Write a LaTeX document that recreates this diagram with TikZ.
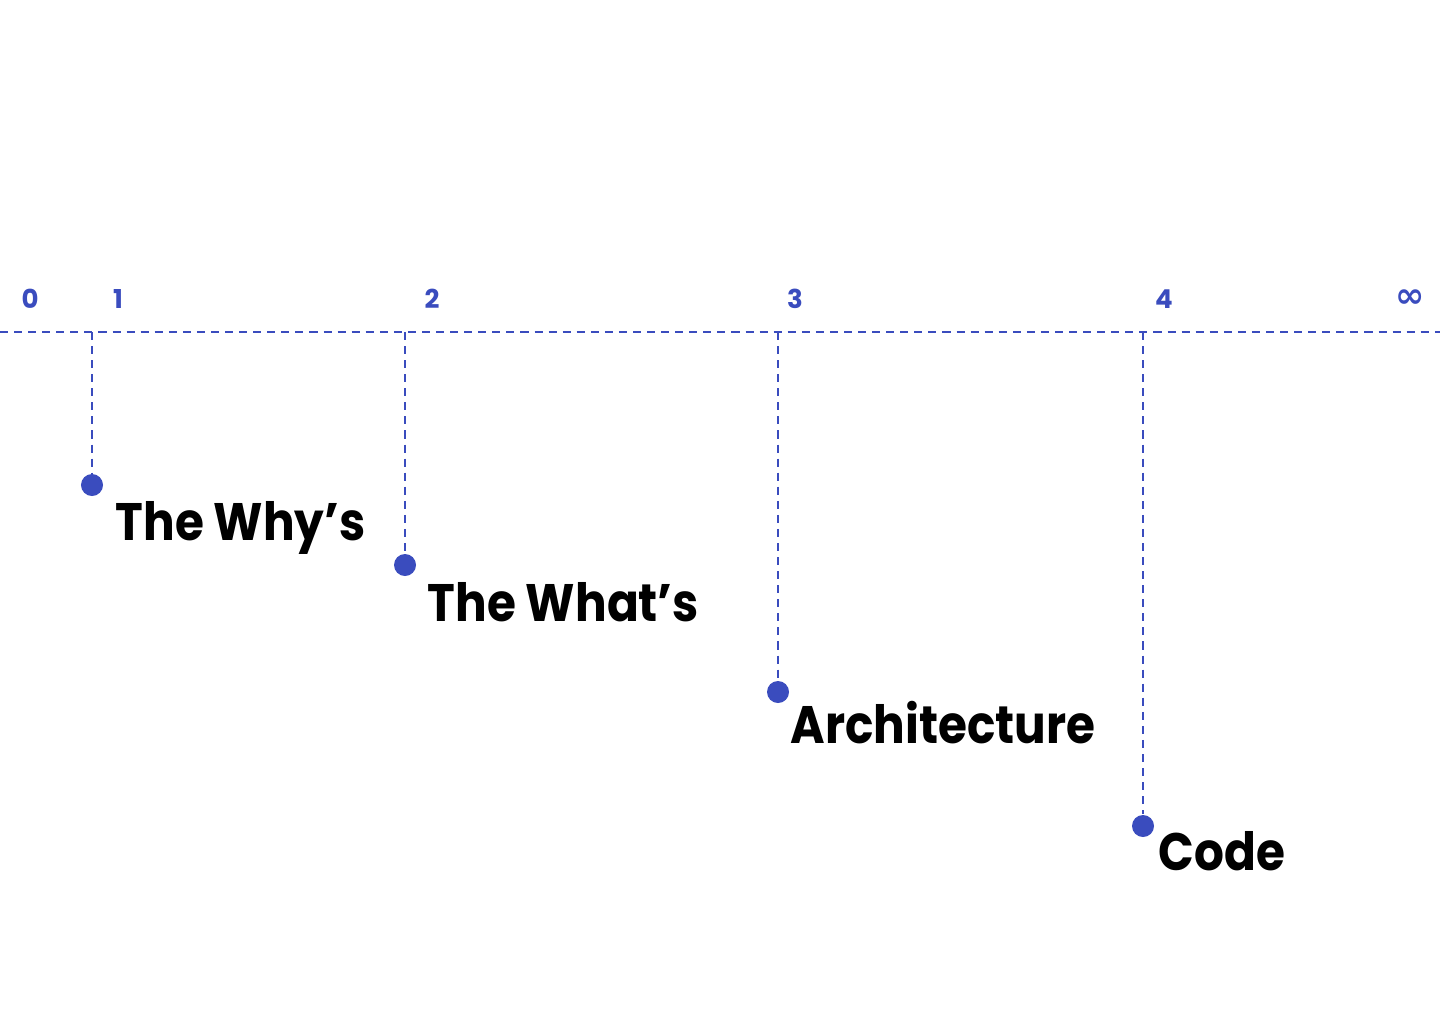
\documentclass[tikz,border=0pt]{standalone}
\usepackage{fontspec}
\setmainfont{Poppins}
\newfontfamily\stagefont{Poppins}[FakeStretch=0.89]
\newfontfamily\symfont{DejaVu Sans}
\definecolor{axisblue}{RGB}{58,76,190}

\begin{document}
\begin{tikzpicture}[x=0.01cm, y=-0.01cm,
    tick/.style={font=\bfseries\fontsize{7.4}{9}\selectfont, text=axisblue},
    dot/.style={circle, fill=axisblue, inner sep=0pt, minimum size=0.22cm},
    stage/.style={font=\stagefont\bfseries\fontsize{15}{18}\selectfont, anchor=base west, inner sep=0pt},
    guide/.style={axisblue, line width=0.4pt, dash pattern=on 2.3pt off 1.7pt}]
    \useasboundingbox (0,0) rectangle (1440,1024);

    % The axis
    \coordinate (axisL) at (0,332);
    \coordinate (axisR) at (1440,332);
    \draw[guide] (axisL) -- (axisR);

    % Tick numbers
    \node[tick] (n0)   at (30,299)   {0};
    \node[tick] (n1)   at (118,299)  {1};
    \node[tick] (n2)   at (432,299)  {2};
    \node[tick] (n3)   at (795,299)  {3};
    \node[tick] (n4)   at (1164,299) {4};
    \node[tick] (ninf) at (1410,299) {\symfont\fontsize{10}{12}\selectfont ∞};

    % Stages: drop line from the axis, dot, label
    \foreach \name/\x/\y/\dx/\dy/\txt in {why/92/485/23/55/The Why’s, what/405/565/22/56/The What’s,
                                          arch/778/692/12/51/Architecture, code/1143/826/15/44/Code} {
        \coordinate (\name top) at (\x,332);
        \node[dot] (\name) at (\x,\y) {};
        \draw[guide] (\name top) -- (\name);
        \node[stage] (\name label) at ([shift={(\dx,\dy)}]\name.center) {\txt};
    }
\end{tikzpicture}
\end{document}
